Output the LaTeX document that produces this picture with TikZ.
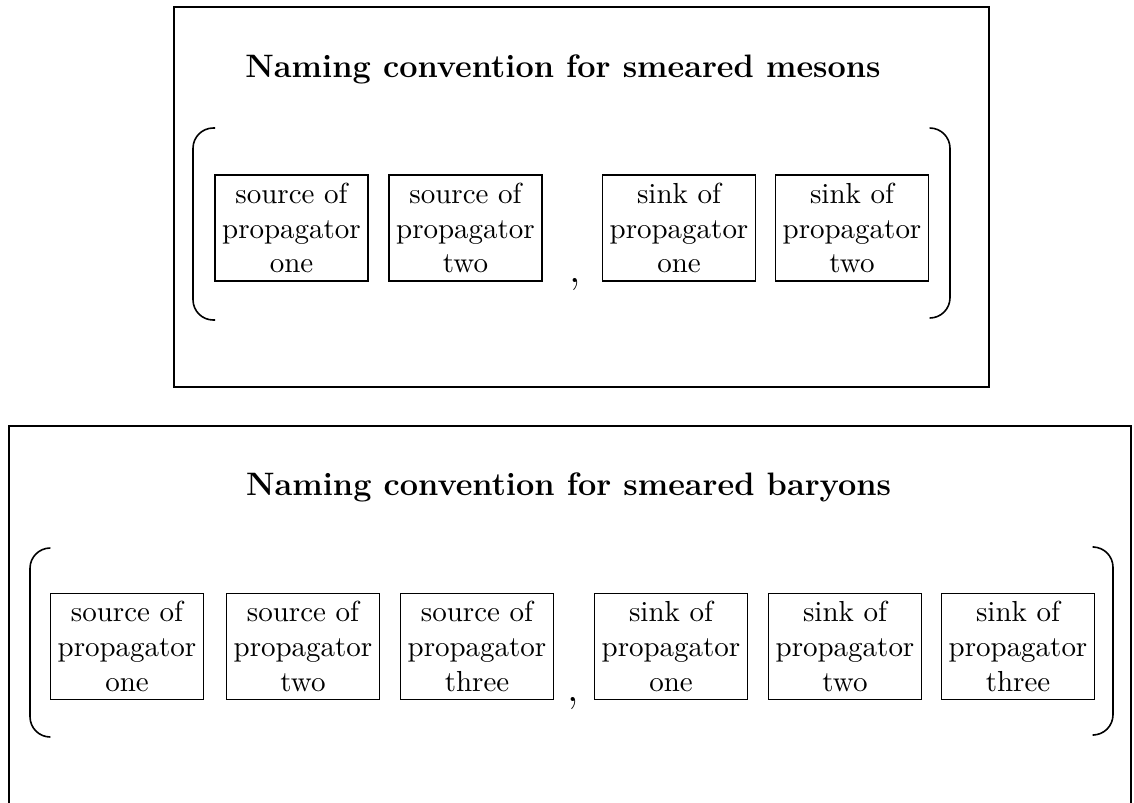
\documentclass[tikz,border=0pt]{standalone}
\begin{document}
\begin{tikzpicture}[x=0.345pt,y=-0.345pt,
  frame/.style={line width=0.9pt},
  pbox/.style={draw,line width=0.55pt,minimum width=52.8pt,minimum height=36.6pt,inner sep=0pt,align=center},
  brk/.style={line width=0.55pt,rounded corners=7pt},
  ttl/.style={anchor=base,font=\fontsize{11.2}{13}\selectfont\bfseries,inner sep=0pt},
  commanode/.style={anchor=base,font=\Large,inner sep=0pt}]
\useasboundingbox (0,0) rectangle (1134,802);
\clip (0,0) rectangle (1134,802);
% top frame
\draw[frame] (174,7) rectangle (989,387);
\node[ttl] (t1) at (563,77) {Naming convention for smeared mesons};
\draw[brk] (215,128) -- (193,128) -- (193,320) -- (215,320);
\draw[brk] (930,128) -- (950,128) -- (950,318) -- (930,318);
\node[pbox] (m1) at (291.5,228) {source of\\propagator\\one};
\node[pbox] (m2) at (465.5,228) {source of\\propagator\\two};
\node[commanode] (mc) at (575,282) {,};
\node[pbox] (m3) at (679,228) {sink of\\propagator\\one};
\node[pbox] (m4) at (852,228) {sink of\\propagator\\two};
% bottom frame
\draw[frame] (9,815) -- (9,426) -- (1131,426) -- (1131,815);
\node[ttl] (t2) at (568.5,495) {Naming convention for smeared baryons};
\draw[brk] (50,548) -- (30,548) -- (30,737) -- (50,737);
\draw[brk] (1094,547) -- (1113,547) -- (1113,735) -- (1094,735);
\node[pbox] (b1) at (127,646.5) {source of\\propagator\\one};
\node[pbox] (b2) at (303,646.5) {source of\\propagator\\two};
\node[pbox] (b3) at (477,646.5) {source of\\propagator\\three};
\node[commanode] (bc) at (573,701) {,};
\node[pbox] (b4) at (671,646.5) {sink of\\propagator\\one};
\node[pbox] (b5) at (845,646.5) {sink of\\propagator\\two};
\node[pbox] (b6) at (1018,646.5) {sink of\\propagator\\three};
\end{tikzpicture}
\end{document}
